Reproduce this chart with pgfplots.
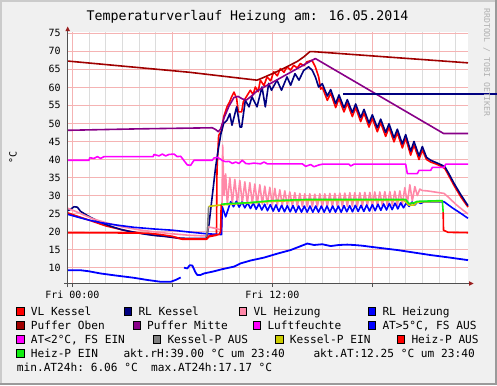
\documentclass[border=0pt]{standalone}
\usepackage{pgfplots}
\pgfplotsset{compat=1.18}
\usepackage{fontspec}
\setmainfont{DejaVu Sans Mono}
\definecolor{bgc}{HTML}{F0F0F0}
\definecolor{bordl}{HTML}{CBCBCB}
\definecolor{bordd}{HTML}{9A9A9A}
\definecolor{gridred}{HTML}{F5B3B3}
\definecolor{gridgray}{HTML}{DCDCDC}
\definecolor{axisc}{HTML}{505050}
\definecolor{arrowc}{HTML}{9A1F1F}
\definecolor{wmk}{HTML}{B0B0B0}
\definecolor{cVLK}{HTML}{FF0000}
\definecolor{cRLK}{HTML}{000080}
\definecolor{cVLH}{HTML}{FF88A8}
\definecolor{cRLH}{HTML}{0000FF}
\definecolor{cPO}{HTML}{A00000}
\definecolor{cPM}{HTML}{880088}
\definecolor{cLF}{HTML}{FF00FF}
\definecolor{cAT}{HTML}{0000FF}
\definecolor{cATL}{HTML}{FF00FF}
\definecolor{cKA}{HTML}{808080}
\definecolor{cKE}{HTML}{CCCC00}
\definecolor{cHA}{HTML}{FF0000}
\definecolor{cHE}{HTML}{11EE11}
\newcommand{\legfont}{\fontsize{11.2}{13}\selectfont}
\newcommand{\legsq}[3]{\filldraw[fill=#3, draw=black, line width=0.6bp] (#1,#2) rectangle ++(7.3,7.3);}
\newcommand{\legtx}[3]{\node[anchor=base west, inner sep=0pt] at (#1,#2) {\legfont #3};}
\begin{document}
\begin{tikzpicture}[x=1bp,y=1bp]
\path[use as bounding box] (0,0) rectangle (497,385);
\fill[bgc] (0,0) rectangle (497,385);
\fill[bordl] (0,0) rectangle (2,385);
\fill[bordl] (0,383) rectangle (497,385);
\fill[bordd] (495,0) rectangle (497,385);
\fill[bordd] (0,0) rectangle (497,2);
\begin{axis}[
  at={(67.7bp,101.5bp)}, anchor=south west,
  scale only axis, width=400.3bp, height=251.8bp,
  xmin=-0.276, xmax=23.74, ymin=5.62, ymax=75.44,
  clip=false, no markers,
  axis background/.style={fill=white},
  axis line style={draw=none},
  tick style={draw=none},
  xtick={0,6,12,18}, xticklabels={Fri 00:00,,Fri 12:00,},
  minor xtick={1,2,3,4,5,7,8,9,10,11,13,14,15,16,17,19,20,21,22,23},
  ytick={10,15,...,75},
  xmajorgrids=true, xminorgrids=true, ymajorgrids=true,
  major grid style={draw=gridred, line width=0.8bp},
  minor grid style={draw=gridgray, line width=0.8bp},
  ticklabel style={font=\fontsize{10}{12}\selectfont, inner sep=0pt},
  yticklabel style={anchor=east, xshift=-7bp},
  xticklabel style={anchor=north, yshift=-7.2bp},
  /pgf/number format/assume math mode=true,
  every axis plot/.append style={line width=1.6bp, line join=round},
]
% VL Kessel
\addplot[cVLK] coordinates {(-0.276,25.2)(0.3,24.3)(1,23.2)(2,21.6)(3,20.5)(4,19.6)(5,19.0)(6,18.5)(6.6,17.9)(8.05,17.9)(8.2,18.6)(8.65,19.0)(8.68,37)(8.78,46.7)(8.98,48.1)(9.08,51.8)(9.28,54.6)(9.44,56)(9.56,57.4)(9.7,58.7)(9.86,56.9)(9.96,53.2)(10.16,53.2)(10.26,56)(10.56,58.3)(10.68,59.2)(10.85,58)(10.98,60.1)(11.15,58.8)(11.28,62)(11.5,60.5)(11.68,62.9)(11.9,61.8)(12.08,64.3)(12.3,63.2)(12.48,65.2)(12.7,64.2)(12.88,65.7)(13.1,64.8)(13.28,66.1)(13.5,65.4)(13.68,66.6)(13.9,66)(14.08,67.1)(14.38,67.5)(14.58,65.7)(14.78,62.9)(14.9,59.5)(15.0,60.0)(15.3,56.4)(15.5,58.4)(15.8,54.4)(16.0,56.9)(16.3,53.2)(16.5,55.6)(16.8,51.9)(17.0,54.4)(17.3,50.5)(17.5,52.9)(17.8,49.0)(18.0,51.4)(18.3,47.7)(18.5,50.2)(18.8,46.4)(19.0,48.9)(19.3,44.9)(19.5,47.4)(19.8,43.2)(20.0,45.9)(20.3,41.2)(20.5,44.0)(20.8,40.0)(21.0,42.6)(21.25,40.0)(21.5,39.3)(21.8,38.8)(22.1,38.2)(22.35,37.5)(22.6,35.4)(22.9,32.8)(23.3,29.7)(23.74,26.8)};
% RL Kessel
\addplot[cRLK] coordinates {(-0.276,25.8)(-0.1,26.2)(0.1,26.9)(0.3,26.8)(0.5,25.6)(1,24.2)(1.5,23.0)(2,22.0)(2.5,21.2)(3,20.5)(3.5,20.0)(4,19.6)(4.5,19.2)(5,18.9)(5.5,18.7)(6,18.4)(6.5,18.2)(7,18.1)(7.5,18.1)(8.05,18.1)(8.2,22)(8.35,28)(8.5,34)(8.6,38)(8.78,43.5)(8.92,47.2)(9.08,50)(9.28,50.9)(9.45,52.7)(9.58,49.5)(9.86,54.6)(10.06,49)(10.16,49)(10.38,56.4)(10.6,54.6)(10.78,57.4)(11.08,54.6)(11.38,60.1)(11.58,54.6)(11.78,61.1)(11.95,59.2)(12.28,62)(12.55,59.2)(12.88,62.9)(13.1,60.6)(13.36,63.8)(13.6,62)(13.88,64.7)(14.18,65.7)(14.4,64.7)(14.58,62.9)(14.78,60.1)(15.0,61.0)(15.3,57.6)(15.5,59.4)(15.8,55.5)(16.0,57.9)(16.3,54.3)(16.5,56.6)(16.8,53.0)(17.0,55.4)(17.3,51.6)(17.5,53.9)(17.8,50.1)(18.0,52.4)(18.3,48.8)(18.5,51.2)(18.8,47.5)(19.0,49.9)(19.3,46.0)(19.5,48.4)(19.8,44.3)(20.0,46.9)(20.3,42.3)(20.5,45.0)(20.8,41.0)(21.0,43.6)(21.25,40.6)(21.5,39.8)(21.8,39.2)(22.1,38.6)(22.35,38.0)(22.6,36.0)(22.9,33.4)(23.3,30.3)(23.74,27.2)};
% VL Heizung
\addplot[cVLH] coordinates {(-0.276,26.5)(0.2,25.6)(0.7,24.6)(1.2,23.6)(2,22.5)(3,21.3)(4,20.5)(5,19.9)(6,19.4)(7,19.0)(8.05,18.8)(8.15,21.3)(8.5,21.0)(8.9,20.5)(8.97,22)(9.02,44)(9.1,30)(9.2,36)(9.3,27.5)(9.45,35)(9.6,27.8)(9.75,34.5)(9.9,27.8)(10.05,34.2)(10.2,27.9)(10.35,33.8)(10.5,27.8)(10.65,33.6)(10.8,27.8)(10.95,33.2)(11.1,27.7)(11.25,33.0)(11.4,27.6)(11.55,32.6)(11.7,27.5)(11.85,32.3)(12.0,27.4)(12.15,32.0)(12.3,27.3)(12.45,31.6)(12.6,27.3)(12.75,31.3)(12.9,27.2)(13.05,31.0)(13.2,27.2)(13.35,30.8)(13.5,27.0)(13.65,30.6)(13.8,27.0)(13.95,30.5)(14.1,26.9)(14.25,30.5)(14.4,26.9)(14.55,30.4)(14.7,26.9)(14.85,30.5)(15.0,26.9)(15.15,30.5)(15.3,27.0)(15.45,30.6)(15.6,27.0)(15.75,30.6)(15.9,27.0)(16.05,30.7)(16.2,27.0)(16.35,30.7)(16.5,27.0)(16.65,30.8)(16.8,27.0)(16.95,30.8)(17.1,27.0)(17.25,30.8)(17.4,27.0)(17.55,30.9)(17.7,27.1)(17.85,30.9)(18.0,27.1)(18.15,31.0)(18.3,27.1)(18.45,31.0)(18.6,27.2)(18.75,31.1)(18.9,27.2)(19.05,31.1)(19.2,27.3)(19.35,31.2)(19.5,27.3)(19.65,31.3)(19.8,27.5)(19.95,32.2)(20.1,27.8)(20.25,33.0)(20.4,28.5)(20.55,32.5)(20.7,30.0)(20.85,31.8)(21.0,31.4)(21.3,31.3)(22.3,30.6)(22.6,29.4)(23.0,27.6)(23.4,26.1)(23.74,24.9)};
% RL Heizung
\addplot[cRLH] coordinates {(-0.276,24.8)(0.5,23.8)(1,23.2)(1.7,22.5)(2.7,21.8)(3.7,21.2)(5,20.7)(6,20.4)(7,19.9)(8.08,19.4)(8.95,19.2)(9.0,26.9)(9.2,24.1)(9.5,28.3)(9.67,26.9)(9.84,28.4)(10.01,26.8)(10.18,28.2)(10.35,26.6)(10.52,28.0)(10.69,26.4)(10.86,27.9)(11.03,26.2)(11.2,27.7)(11.37,26.0)(11.54,27.6)(11.71,25.8)(11.88,27.5)(12.05,25.7)(12.22,27.4)(12.39,25.6)(12.56,27.3)(12.73,25.5)(12.9,27.2)(13.07,25.5)(13.24,27.2)(13.41,25.4)(13.58,27.1)(13.75,25.4)(13.92,27.1)(14.09,25.4)(14.26,27.1)(14.43,25.4)(14.6,27.1)(14.77,25.4)(14.94,27.1)(15.11,25.4)(15.28,27.1)(15.45,25.4)(15.62,27.1)(15.79,25.4)(15.96,27.1)(16.13,25.4)(16.3,27.2)(16.47,25.5)(16.64,27.2)(16.81,25.5)(16.98,27.3)(17.15,25.6)(17.32,27.3)(17.49,25.6)(17.66,27.4)(17.83,25.7)(18.0,27.5)(18.17,25.8)(18.34,27.6)(18.51,25.9)(18.68,27.7)(18.85,26.0)(19.02,27.8)(19.19,26.1)(19.36,27.9)(19.53,26.3)(19.7,28.0)(19.87,26.6)(20.04,28.0)(20.21,27.0)(20.38,28.2)(20.55,27.4)(20.72,28.3)(20.9,27.8)(21.1,28.3)(22.3,28.3)(22.8,26.6)(23.3,25.1)(23.74,23.7)};
% Puffer Oben
\addplot[cPO] coordinates {(-0.276,67.3)(7.0,64.2)(11.08,62.0)(11.35,62.5)(12.1,64.0)(12.7,65.3)(13.5,67.2)(13.9,68.5)(14.25,69.9)(14.5,69.9)(23.74,66.8)};
% Puffer Mitte
\addplot[cPM] coordinates {(-0.276,48.1)(4,48.5)(8.4,48.8)(8.6,48.3)(8.76,47.7)(8.9,48.5)(9.1,51.5)(9.4,54.8)(9.7,57.2)(9.95,57.5)(10.2,56.8)(10.45,56.5)(10.8,57.8)(11.08,59.0)(14.58,68.0)(22.28,47.2)(23.74,47.2)};
% Luftfeuchte
\addplot[cLF] coordinates {(-0.276,39.8)(1.0,39.8)(1.05,40.5)(1.3,40.3)(1.5,40.8)(1.7,40.3)(1.9,40.8)(2.2,40.8)(4.85,40.8)(4.9,41.4)(5.2,41.0)(5.4,41.5)(5.6,41.0)(5.8,41.4)(6.1,41.5)(6.3,40.8)(6.5,40.9)(6.7,39.7)(6.9,38.5)(7.1,38.4)(7.3,39.8)(8.4,39.8)(8.5,40.4)(8.7,40.6)(8.9,40.1)(9.0,39.7)(9.2,39.4)(9.4,39.5)(9.6,38.9)(9.8,39.3)(10.0,38.9)(10.2,39.8)(10.4,38.9)(10.6,38.8)(10.9,39.0)(11.3,38.8)(11.5,39.3)(11.7,38.8)(13.8,38.8)(14.0,38.1)(14.3,38.6)(14.5,38.0)(14.8,38.5)(15.0,38.7)(16.6,38.7)(16.7,38.2)(16.9,38.7)(20.0,38.7)(20.1,36.1)(20.7,36.1)(20.8,37.0)(21.5,37.0)(21.6,37.8)(22.3,37.8)(22.4,38.7)(23.74,38.7)};
% AT
\addplot[cAT, line width=1.8bp] coordinates {(-0.276,9.3)(0.5,9.3)(1,9.0)(1.7,8.4)(2.5,7.9)(3.7,7.2)(4.5,6.6)(5.3,6.1)(5.9,6.1)(6.2,6.6)(6.5,7.3)};
\addplot[cAT, line width=1.8bp] coordinates {(6.7,10.0)(6.9,9.8)(7.05,10.7)(7.2,10.6)(7.4,8.6)(7.5,8.0)(7.7,8.0)(7.9,8.4)(8.5,9.0)(9.0,9.6)(9.7,10.3)(10.1,11.2)(10.7,12.0)(11.5,12.8)(12.3,13.9)(13.1,14.9)(13.6,15.8)(14.1,16.7)(14.5,16.3)(15.0,16.5)(15.5,16.0)(16.0,16.3)(16.5,16.4)(16.9,16.3)(17.4,16.1)(17.9,15.8)(18.6,15.4)(19.5,14.9)(20.5,14.2)(21.5,13.5)(22.5,12.9)(23.74,12.1)};
% Kessel-P AUS
\addplot[cKA] coordinates {(8.02,18.5)(8.1,20.0)(8.18,27.0)};
% Kessel-P EIN
\addplot[cKE] coordinates {(8.18,27.0)(8.93,27.4)(9.5,27.6)(12,28.4)(14,28.7)(19.9,28.7)(20.2,27.3)(20.5,27.4)(20.7,28.2)(22.2,28.4)};
% Heiz-P AUS
\addplot[cHA] coordinates {(-0.276,19.7)(4.5,19.6)(5.3,19.2)(6.0,18.7)(6.6,17.95)(8.05,17.95)(8.2,18.8)(8.8,19.2)(8.9,20.0)(8.93,27.5)};
\addplot[cHA] coordinates {(22.25,25.4)(22.27,20.4)(22.55,19.8)(23.74,19.7)};
% Heiz-P EIN
\addplot[cHE] coordinates {(8.93,27.6)(9.5,27.8)(10.5,28.0)(12,28.6)(14,28.9)(20.0,28.9)(20.2,27.8)(20.5,28.0)(20.7,28.4)(22.2,28.6)(22.25,25.4)};
% horizontal line
\addplot[cRLK] coordinates {(16.26,58.2)(25.48,58.2)};
\end{axis}
% axes
\draw[axisc, line width=0.8bp] (64,101.5) -- (470,101.5);
\fill[arrowc] (469,103.8) -- (473.5,101.5) -- (469,99.2) -- cycle;
\draw[axisc, line width=0.8bp] (67.7,98) -- (67.7,355);
\fill[arrowc] (65.4,354) -- (67.7,358.5) -- (70,354) -- cycle;
\foreach \xx in {72.3,172.3,272.3,372.3} {\draw[axisc, line width=0.8bp] (\xx,98) -- (\xx,101.5);}
% titles
\node[anchor=base, inner sep=0pt] at (247.5,364.3) {\fontsize{13.3}{15}\selectfont Temperaturverlauf Heizung am: 16.05.2014};
\node[rotate=90, inner sep=0pt] at (13,228) {\fontsize{10}{12}\selectfont °C};
\node[rotate=-90, inner sep=0pt, text=wmk] at (486.7,322.5) {\fontsize{8.2}{10}\selectfont RRDTOOL / TOBI OETIKER};
% legend
\legsq{16.7}{70}{cVLK}\legtx{30.7}{70}{VL Kessel}
\legsq{124.3}{70}{cRLK}\legtx{138.3}{70}{RL Kessel}
\legsq{239.3}{70}{cVLH}\legtx{253.3}{70}{VL Heizung}
\legsq{368.3}{70}{cRLH}\legtx{382.3}{70}{RL Heizung}
\legsq{16.7}{56}{cPO}\legtx{30.7}{56}{Puffer Oben}
\legsq{133}{56}{cPM}\legtx{147}{56}{Puffer Mitte}
\legsq{253.3}{56}{cLF}\legtx{267.3}{56}{Luftfeuchte}
\legsq{368.3}{56}{cAT}\legtx{382.3}{56}{AT>5°C, FS AUS}
\legsq{16.7}{42}{cATL}\legtx{30.7}{42}{AT<2°C, FS EIN}
\legsq{153.3}{42}{cKA}\legtx{167.3}{42}{Kessel-P AUS}
\legsq{275.7}{42}{cKE}\legtx{289.7}{42}{Kessel-P EIN}
\legsq{397.3}{42}{cHA}\legtx{411.3}{42}{Heiz-P AUS}
\legsq{16.7}{28}{cHE}\legtx{30.7}{28}{Heiz-P EIN}
\legtx{123.3}{28}{akt.rH:39.00~°C~um~23:40}
\legtx{313.3}{28}{akt.AT:12.25~°C~um~23:40}
\legtx{16.7}{14}{min.AT24h:~6.06~°C~~max.AT24h:17.17~°C}
\end{tikzpicture}
\end{document}
